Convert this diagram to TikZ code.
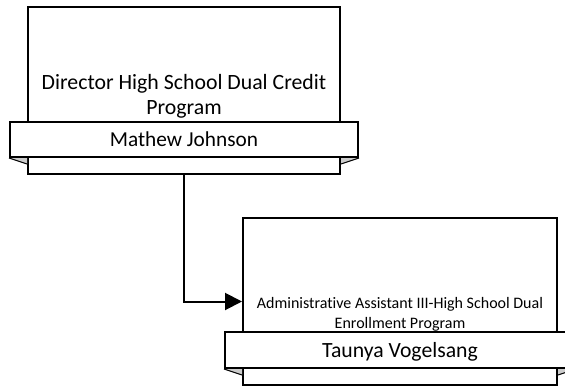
\documentclass[tikz,border=0pt]{standalone}
\usepackage{fontspec}
\setmainfont{Carlito}[Ligatures=NoCommon]
\usetikzlibrary{arrows.meta}
\begin{document}
\begin{tikzpicture}[x=1pt,y=-1pt,
  box/.style={draw=black,line width=2pt,fill=white,inner sep=0pt},
  ribbon/.style={draw=black,line width=2pt,fill=white,inner sep=0pt,text depth=0pt},
  foldfill/.style={fill=black!20},
  foldline/.style={draw=black,line width=1pt},
  conn/.style={draw=black,line width=2pt,-{Triangle[length=17pt,width=17pt]}},
  title/.style={align=center,inner sep=0pt,anchor=base}]
\clip (0,0) rectangle (565,388);
\fill[white] (0,0) rectangle (565,388);
% box 1
\node[box,minimum width=312pt,minimum height=167pt] (b1) at (184,90.5) {};
\node[title,font=\fontsize{21.8}{25.5}\selectfont] (t1) at (184,114.8) {Director High School Dual Credit\\Program};
\node[ribbon,minimum width=348pt,minimum height=35pt,text height=13.6pt,font=\fontsize{21.3}{24}\selectfont] (r1) at (184,139.5) {Mathew Johnson};
\fill[foldfill] (r1.south west) -- (r1.south west -| b1.west) -- ++(0,6) -- cycle;
\draw[foldline] (r1.south west) -- ([yshift=-6pt]r1.south west -| b1.west);
\fill[foldfill] (r1.south east) -- (r1.south east -| b1.east) -- ++(0,6) -- cycle;
\draw[foldline] (r1.south east) -- ([yshift=-6pt]r1.south east -| b1.east);
% box 2
\node[box,minimum width=314pt,minimum height=167pt] (b2) at (400,301.5) {};
\node[title,font=\fontsize{16}{20}\selectfont] (t2) at (400,328.3) {Administrative Assistant III-High School Dual\\Enrollment Program};
\node[ribbon,minimum width=350pt,minimum height=36pt,text height=14.5pt,font=\fontsize{21.7}{25}\selectfont] (r2) at (400,350) {Taunya Vogelsang};
\fill[foldfill] (r2.south west) -- (r2.south west -| b2.west) -- ++(0,6) -- cycle;
\draw[foldline] (r2.south west) -- ([yshift=-6pt]r2.south west -| b2.west);
\fill[foldfill] (r2.south east) -- (r2.south east -| b2.east) -- ++(0,6) -- cycle;
\draw[foldline] (r2.south east) -- ([yshift=-6pt]r2.south east -| b2.east);
% connector
\draw[conn] (b1.south) |- (b2.west);
\end{tikzpicture}
\end{document}
